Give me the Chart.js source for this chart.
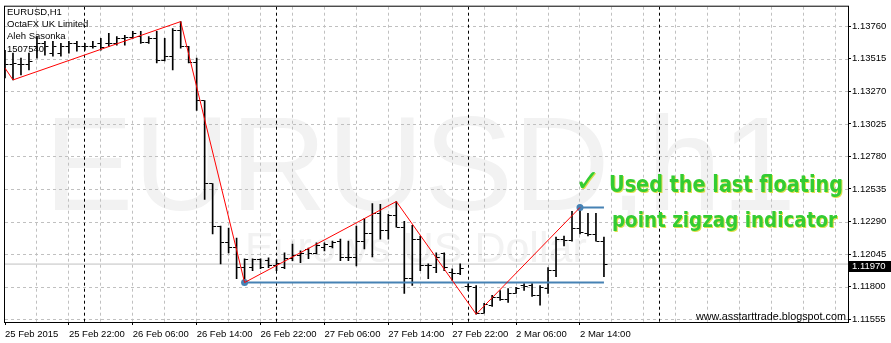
<!DOCTYPE html>
<html>
<head>
<meta charset="utf-8">
<script src="https://cdn.jsdelivr.net/npm/chart.js@4.4.1/dist/chart.umd.min.js"></script>
<style>
  html, body { margin: 0; padding: 0; background: #fff; }
  canvas { display: block; }
</style>
</head>
<body>
<canvas id="chart" width="891" height="343"></canvas>
<script>
// EURUSD H1 bars, 25 Feb 2015 14:00 .. 2 Mar 2015 17:00 (bar index = hour slot)
const opens = [
  1.13445, 1.13475, 1.13475, 1.13475, 1.13609, 1.13631, 1.13557, 1.13557, 1.13609, 1.13631,
  1.13609, 1.13609, 1.13631, 1.13631, 1.13631, 1.13669, 1.13676, 1.13683, 1.13639, 1.13669,
  1.13505, 1.13535, 1.13728, 1.13609, 1.13490, 1.13200, 1.12575, 1.12255, 1.12129, 1.12091,
  1.11943, 1.11943, 1.12002, 1.11995, 1.11957, 1.11943, 1.12010, 1.12032, 1.12076, 1.12047,
  1.12091, 1.12099, 1.12143, 1.12017, 1.12017, 1.12143, 1.12203, 1.12352, 1.12225, 1.12337,
  1.12248, 1.11861, 1.12158, 1.11957, 1.11943, 1.12047, 1.11905, 1.11898, 1.11801, 1.11794,
  1.11600, 1.11661, 1.11719, 1.11704, 1.11749, 1.11809, 1.11809, 1.11734, 1.11786, 1.11920,
  1.12158, 1.12151, 1.12240, 1.12203, 1.12196, 1.12143,
];
const highs = [
  1.13579, 1.13557, 1.13520, 1.13557, 1.13683, 1.13646, 1.13646, 1.13631, 1.13646, 1.13646,
  1.13631, 1.13646, 1.13669, 1.13706, 1.13683, 1.13691, 1.13721, 1.13721, 1.13683, 1.13721,
  1.13669, 1.13743, 1.13795, 1.13609, 1.13520, 1.13200, 1.12575, 1.12255, 1.12240, 1.12166,
  1.12010, 1.12010, 1.12010, 1.12017, 1.12002, 1.12054, 1.12121, 1.12069, 1.12091, 1.12129,
  1.12129, 1.12143, 1.12158, 1.12143, 1.12255, 1.12315, 1.12426, 1.12419, 1.12344, 1.12441,
  1.12292, 1.12262, 1.12181, 1.11972, 1.12054, 1.12054, 1.11935, 1.11972, 1.11824, 1.11809,
  1.11675, 1.11734, 1.11771, 1.11786, 1.11794, 1.11824, 1.11824, 1.11809, 1.11943, 1.12173,
  1.12181, 1.12367, 1.12396, 1.12352, 1.12352, 1.12173,
];
const lows = [
  1.13371, 1.13356, 1.13393, 1.13431, 1.13520, 1.13542, 1.13535, 1.13535, 1.13557, 1.13572,
  1.13579, 1.13594, 1.13579, 1.13609, 1.13617, 1.13617, 1.13669, 1.13631, 1.13631, 1.13483,
  1.13498, 1.13431, 1.13594, 1.13483, 1.13126, 1.12456, 1.12196, 1.11972, 1.12054, 1.11861,
  1.11831, 1.11920, 1.11935, 1.11943, 1.11920, 1.11935, 1.11995, 1.11980, 1.12010, 1.12047,
  1.12069, 1.12091, 1.11995, 1.11995, 1.11957, 1.12084, 1.12024, 1.12158, 1.12158, 1.12248,
  1.11749, 1.11809, 1.11920, 1.11861, 1.11905, 1.11920, 1.11846, 1.11890, 1.11771, 1.11593,
  1.11600, 1.11652, 1.11697, 1.11682, 1.11749, 1.11771, 1.11727, 1.11661, 1.11749, 1.11876,
  1.12106, 1.12143, 1.12196, 1.12181, 1.12143, 1.11876,
];
const closes = [
  1.13475, 1.13483, 1.13475, 1.13498, 1.13631, 1.13609, 1.13609, 1.13609, 1.13631, 1.13609,
  1.13609, 1.13609, 1.13602, 1.13631, 1.13669, 1.13676, 1.13706, 1.13639, 1.13669, 1.13505,
  1.13535, 1.13728, 1.13609, 1.13490, 1.13200, 1.12575, 1.12255, 1.12129, 1.12091, 1.11943,
  1.12002, 1.12002, 1.11943, 1.11957, 1.11972, 1.12010, 1.12032, 1.12047, 1.12047, 1.12106,
  1.12114, 1.12136, 1.12017, 1.12017, 1.12143, 1.12203, 1.12352, 1.12225, 1.12337, 1.12248,
  1.11861, 1.12158, 1.11957, 1.11957, 1.12017, 1.11943, 1.11898, 1.11935, 1.11801, 1.11600,
  1.11667, 1.11719, 1.11704, 1.11749, 1.11786, 1.11801, 1.11734, 1.11794, 1.11920, 1.12158,
  1.12151, 1.12240, 1.12210, 1.12196, 1.12143, 1.11970,
];

// zigzag turning points (bar index, price)
const zigzagIdx = [0, 1, 22, 30, 49, 59, 72];
const zigzagPrice = [1.13445, 1.13356, 1.13795, 1.11831, 1.12441, 1.11593, 1.12396];

// horizontal levels drawn from the last two lows/highs
const supportLevel = 1.11831;
const supportFrom = 30;
const resistLevel = 1.12396;
const resistFrom = 72;

// axes
const xTickIdx = [0, 8, 16, 24, 32, 40, 48, 56, 64, 72];
const xTickLabels = [
  '25 Feb 2015', '25 Feb 22:00', '26 Feb 06:00', '26 Feb 14:00', '26 Feb 22:00',
  '27 Feb 06:00', '27 Feb 14:00', '27 Feb 22:00', '2 Mar 06:00', '2 Mar 14:00',
];
const dayStarts = [10, 34, 58, 82];
const yTicks = [1.11555, 1.11800, 1.12045, 1.12290, 1.12535, 1.12780, 1.13025, 1.13270, 1.13515, 1.13760];
const yMin = 1.11534;
const yMax = 1.13907;
const xMax = 105.56;

const infoLines = ['EURUSD,H1', 'OctaFX UK Limited', 'Aleh Sasonka', '1507540'];
const FAMILY = "'Liberation Sans', Arial, sans-serif";
const lastIdx = closes.length - 1;
const lastPrice = closes[lastIdx];

function tickImage(side) {
  // 9px wide, centre column = stem; 3px tick to the left (open) or right (close)
  const c = document.createElement('canvas');
  c.width = 9;
  c.height = 1;
  const g = c.getContext('2d');
  g.fillStyle = '#000';
  g.fillRect(side < 0 ? 1 : 5, 0, 3, 1);
  return c;
}

function fitText(ctx, text, x, baseline, width, xHeight, font) {
  ctx.font = `bold 20px ${font}`;
  const w = ctx.measureText(text).width;
  const sx = width / w;
  const sy = xHeight / (20 * 0.547);
  ctx.save();
  ctx.translate(x, baseline);
  ctx.scale(sx, sy);
  ctx.fillText(text, 0, 0);
  ctx.restore();
}

const mt4Look = {
  id: 'mt4Look',
  beforeDraw(chart) {
    const { ctx, width, height } = chart;
    ctx.save();
    ctx.fillStyle = '#fff';
    ctx.fillRect(0, 0, width, height);
    ctx.restore();
  },
  beforeDatasetsDraw(chart) {
    const { ctx, chartArea: a, scales: { x, y } } = chart;
    ctx.save();
    ctx.beginPath();
    ctx.rect(a.left, a.top, a.right - a.left, a.bottom - a.top);
    ctx.clip();

    // watermark
    ctx.fillStyle = '#f2f2f2';
    ctx.textBaseline = 'alphabetic';
    ctx.font = `134px ${FAMILY}`;
    ctx.fillText('EURUSD,h1', 44, 210);
    ctx.font = `43px ${FAMILY}`;
    ctx.fillText('Euro vs US Dollar', 245, 262);

    // grid
    ctx.lineWidth = 1;
    ctx.setLineDash([3, 3]);
    ctx.strokeStyle = '#c0c0c0';
    ctx.beginPath();
    yTicks.forEach(v => {
      const py = Math.round(y.getPixelForValue(v)) + 0.5;
      ctx.moveTo(a.left, py);
      ctx.lineTo(a.right, py);
    });
    for (let i = 4; i <= xMax; i += 4) {
      const px = Math.floor(x.getPixelForValue(i)) + 0.5;
      ctx.moveTo(px, a.top);
      ctx.lineTo(px, a.bottom);
    }
    ctx.stroke();

    ctx.strokeStyle = '#000';
    ctx.beginPath();
    dayStarts.forEach(i => {
      const px = Math.floor(x.getPixelForValue(i)) + 0.5;
      ctx.moveTo(px, a.top);
      ctx.lineTo(px, a.bottom);
    });
    ctx.stroke();
    ctx.restore();
  },
  afterDraw(chart) {
    const { ctx, chartArea: a, scales: { y } } = chart;
    ctx.save();

    // frame
    ctx.strokeStyle = '#000';
    ctx.lineWidth = 1;
    ctx.strokeRect(Math.floor(a.left) - 0.5, a.top - 0.5, a.right - Math.floor(a.left) + 1, a.bottom - a.top + 1);

    // account info
    ctx.fillStyle = '#000';
    ctx.font = `9.5px ${FAMILY}`;
    ctx.textBaseline = 'alphabetic';
    infoLines.forEach((t, k) => ctx.fillText(t, 7, 15 + k * 12.2));

    // site
    ctx.font = `10.8px ${FAMILY}`;
    ctx.textAlign = 'right';
    ctx.fillText('www.asstarttrade.blogspot.com', 846, 319.5);
    ctx.textAlign = 'left';

    // bid label
    const py = Math.round(y.getPixelForValue(lastPrice));
    ctx.fillStyle = '#000';
    ctx.fillRect(849, py - 3, 42, 11);
    ctx.fillStyle = '#fff';
    ctx.font = `9.5px ${FAMILY}`;
    ctx.textBaseline = 'middle';
    ctx.fillText(lastPrice.toFixed(5), 852, py + 2.5);

    // annotation
    ctx.textBaseline = 'alphabetic';
    ctx.fillStyle = '#33cc33';
    ctx.shadowColor = 'rgba(210, 210, 0, 0.7)';
    ctx.shadowOffsetX = 1;
    ctx.shadowOffsetY = 1;
    ctx.shadowBlur = 0;
    ctx.font = `bold 30px 'DejaVu Sans', sans-serif`;
    const cw = ctx.measureText('\u2713').width;
    ctx.save();
    ctx.translate(575, 191);
    ctx.scale(25 / cw, 1);
    ctx.fillText('\u2713', 0, 0);
    ctx.restore();
    fitText(ctx, 'Used the last floating', 609, 192, 234, 13, "'DejaVu Sans', sans-serif");
    fitText(ctx, 'point zigzag indicator', 612, 227, 225, 12, "'DejaVu Sans', sans-serif");
    ctx.restore();
  },
};

const axisFont = { family: FAMILY, size: 9.5 };

new Chart(document.getElementById('chart'), {
  type: 'scatter',
  data: {
    datasets: [
      {
        type: 'line',
        data: zigzagIdx.map((v, k) => ({ x: v, y: zigzagPrice[k] })),
        borderColor: '#ff0000',
        borderWidth: 1,
        pointRadius: 0,
        tension: 0,
        order: 0,
      },
      {
        type: 'line',
        data: [{ x: supportFrom, y: supportLevel }, { x: lastIdx, y: supportLevel }],
        borderColor: '#4682b4',
        borderWidth: 2,
        pointRadius: c => (c.dataIndex === 0 ? 3.5 : 0),
        pointBackgroundColor: '#4682b4',
        pointBorderWidth: 0,
        order: 1,
      },
      {
        type: 'line',
        data: [{ x: resistFrom, y: resistLevel }, { x: lastIdx, y: resistLevel }],
        borderColor: '#4682b4',
        borderWidth: 2,
        pointRadius: c => (c.dataIndex === 0 ? 3.5 : 0),
        pointBackgroundColor: '#4682b4',
        pointBorderWidth: 0,
        order: 1,
      },
      {
        type: 'scatter',
        data: opens.map((v, i) => ({ x: i, y: v })),
        pointStyle: tickImage(-1),
        pointRadius: 3,
        order: 2,
      },
      {
        type: 'scatter',
        data: closes.map((v, i) => ({ x: i, y: v })),
        pointStyle: tickImage(1),
        pointRadius: 3,
        order: 2,
      },
      {
        type: 'bar',
        data: highs.map((v, i) => ({ x: i, y: [lows[i], v] })),
        backgroundColor: '#000',
        borderWidth: 0,
        barThickness: 1,
        grouped: false,
        order: 3,
      },
      {
        type: 'line',
        data: [{ x: 0, y: lastPrice }, { x: xMax, y: lastPrice }],
        borderColor: '#c0c0c0',
        borderWidth: 1,
        pointRadius: 0,
        order: 4,
      },
    ],
  },
  options: {
    responsive: false,
    animation: false,
    devicePixelRatio: 1,
    events: [],
    layout: { padding: { left: 3.5, top: 3, right: 0, bottom: 0 } },
    plugins: { legend: { display: false }, tooltip: { enabled: false } },
    scales: {
      x: {
        type: 'linear',
        position: 'bottom',
        min: 0,
        max: xMax,
        offset: false,
        afterBuildTicks: s => { s.ticks = xTickIdx.map(v => ({ value: v })); },
        afterFit: s => { s.height = 21; },
        grid: { drawOnChartArea: false, drawTicks: true, tickLength: 3, tickColor: '#000', offset: false },
        border: { display: false },
        ticks: {
          align: 'start',
          autoSkip: false,
          maxRotation: 0,
          minRotation: 0,
          padding: 4,
          color: '#000',
          font: axisFont,
          callback: v => xTickLabels[xTickIdx.indexOf(v)],
        },
      },
      y: {
        type: 'linear',
        position: 'right',
        min: yMin,
        max: yMax,
        afterBuildTicks: s => { s.ticks = yTicks.map(v => ({ value: v })); },
        afterFit: s => { s.width = 43; },
        grid: { drawOnChartArea: false, drawTicks: true, tickLength: 3, tickColor: '#000' },
        border: { display: false },
        ticks: {
          padding: 1,
          color: '#000',
          font: axisFont,
          callback: v => v.toFixed(5),
        },
      },
    },
  },
  plugins: [mt4Look],
});
</script>
</body>
</html>
